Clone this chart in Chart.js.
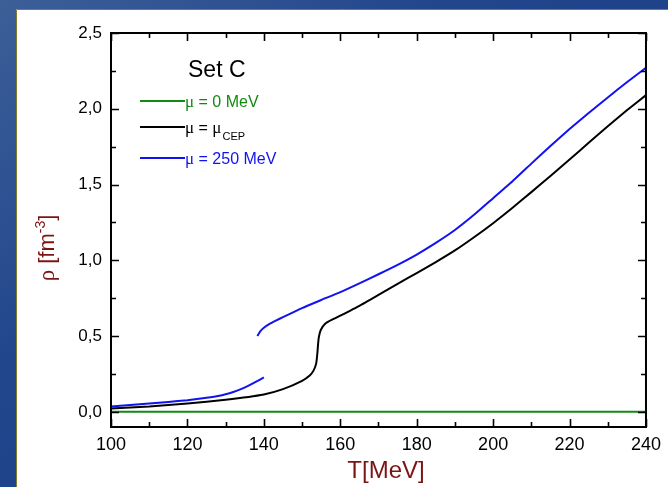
<!DOCTYPE html>
<html>
<head>
<meta charset="utf-8">
<script src="https://cdn.jsdelivr.net/npm/chart.js@4.4.1/dist/chart.umd.min.js"></script>
<style>
  html, body { margin: 0; padding: 0; overflow: hidden; background: #fff; }
  #wrap { width: 668px; height: 487px; }
</style>
</head>
<body>
<div id="wrap"><canvas id="rhoChart" width="668" height="487"></canvas></div>
<script>
// Quark number density vs temperature, model parameter set C
const setTitle = 'Set C';
const seriesLabels = ['μ = 0 MeV', 'μ = μ_CEP', 'μ = 250 MeV'];
const seriesColors = ['#128a12', '#000000', '#1212f0'];

// mu = 0
const tempMu0 = [100, 240];
const rhoMu0 = [0, 0];

// mu = mu_CEP (critical end point)
const tempCEP = [100, 110, 120, 130, 140, 145, 150, 152, 153, 153.7, 154.0, 154.2, 154.4, 154.9, 156.1, 158, 160, 165, 170, 175, 180, 185, 190, 195, 200, 205, 210, 215, 220, 225, 230, 235, 240];
const rhoCEP  = [0.022, 0.035, 0.055, 0.08, 0.115, 0.15, 0.205, 0.24, 0.272, 0.32, 0.385, 0.45, 0.495, 0.54, 0.583, 0.61, 0.635, 0.70, 0.772, 0.845, 0.915, 0.988, 1.065, 1.152, 1.245, 1.345, 1.45, 1.557, 1.665, 1.775, 1.885, 1.99, 2.09];

// mu = 250 MeV: hadronic branch and quark branch (first-order jump)
const tempLow250 = [100, 105, 110, 115, 120, 125, 128, 130, 132, 134, 136, 138, 140];
const rhoLow250  = [0.035, 0.045, 0.055, 0.065, 0.077, 0.093, 0.105, 0.116, 0.131, 0.15, 0.173, 0.199, 0.227];
const tempHigh250 = [138.3, 139, 140, 141.5, 143, 145, 150, 155, 160, 165, 170, 175, 180, 185, 190, 195, 200, 205, 210, 215, 220, 225, 230, 235, 240];
const rhoHigh250  = [0.50, 0.53, 0.555, 0.58, 0.60, 0.625, 0.685, 0.738, 0.79, 0.848, 0.908, 0.97, 1.038, 1.115, 1.20, 1.30, 1.41, 1.52, 1.638, 1.755, 1.866, 1.972, 2.075, 2.175, 2.27];

// axis ticks
const xTicks = [100, 120, 140, 160, 180, 200, 220, 240];
const xTickLabels = ['100', '120', '140', '160', '180', '200', '220', '240'];
const xMinorTicks = [110, 130, 150, 170, 190, 210, 230];
const yTicks = [0, 0.5, 1.0, 1.5, 2.0, 2.5];
const yTickLabels = ['0,0', '0,5', '1,0', '1,5', '2,0', '2,5'];
const yMinorTicks = [0.25, 0.75, 1.25, 1.75, 2.25];

const xTitle = 'T[MeV]';
const yTitle = 'ρ [fm';
const yTitleSup = '-3';
const yTitleEnd = ']';

const SANS = '"Liberation Sans", Arial, Helvetica, sans-serif';
const SERIF = '"Liberation Serif", "Times New Roman", serif';
const TITLE_RED = '#7d1414';

function pts(xs, ys) {
  return xs.map((x, i) => ({ x: x, y: ys[i] }));
}

// text with μ in a serif face and "_xxx" as a subscript
function drawRich(ctx, text, x, y, size, color) {
  ctx.fillStyle = color;
  ctx.textAlign = 'left';
  ctx.textBaseline = 'alphabetic';
  const parts = text.split(/(μ|_\w+)/).filter(s => s.length);
  for (const p of parts) {
    if (p === 'μ') {
      ctx.font = (size + 1) + 'px ' + SERIF;
      ctx.fillText(p, x, y);
      x += ctx.measureText(p).width;
    } else if (p[0] === '_') {
      const s = p.slice(1);
      ctx.font = Math.round(size * 0.68) + 'px ' + SANS;
      ctx.fillText(s, x + 1, y + 7);
      x += ctx.measureText(s).width + 1;
    } else {
      ctx.font = size + 'px ' + SANS;
      ctx.fillText(p, x, y);
      x += ctx.measureText(p).width;
    }
  }
}

const decorPlugin = {
  id: 'decor',
  beforeDraw(chart) {
    const ctx = chart.ctx;
    const W = chart.width, H = chart.height;
    ctx.save();
    const g = ctx.createLinearGradient(0, 0, W * 0.6, H);
    g.addColorStop(0, '#3c5f98');
    g.addColorStop(0.45, '#22468c');
    g.addColorStop(1, '#1a3d86');
    ctx.fillStyle = g;
    ctx.fillRect(0, 0, W, H);
    // white slide panel
    ctx.fillStyle = '#ffffff';
    ctx.fillRect(16, 9, W - 16, H - 9);
    ctx.strokeStyle = '#7f7f2c';
    ctx.lineWidth = 1;
    ctx.beginPath();
    ctx.moveTo(16.5, H);
    ctx.lineTo(16.5, 9.5);
    ctx.lineTo(W, 9.5);
    ctx.stroke();
    ctx.restore();
  },
  afterDatasetsDraw(chart) {
    const ctx = chart.ctx;
    const a = chart.chartArea;
    const xs = chart.scales.x, ys = chart.scales.y;
    ctx.save();
    // frame
    ctx.strokeStyle = '#000';
    ctx.lineWidth = 2;
    ctx.strokeRect(a.left, a.top, a.right - a.left, a.bottom - a.top);
    // inward ticks on all four sides
    const major = 8, minor = 5;
    ctx.lineWidth = 1.6;
    ctx.beginPath();
    const xt = (v, len) => {
      const px = Math.round(xs.getPixelForValue(v)) + 0.5;
      ctx.moveTo(px, a.bottom); ctx.lineTo(px, a.bottom - len);
      ctx.moveTo(px, a.top); ctx.lineTo(px, a.top + len);
    };
    const yt = (v, len) => {
      const py = Math.round(ys.getPixelForValue(v)) + 0.5;
      ctx.moveTo(a.left, py); ctx.lineTo(a.left + len, py);
      ctx.moveTo(a.right, py); ctx.lineTo(a.right - len, py);
    };
    xTicks.forEach(v => xt(v, major));
    xMinorTicks.forEach(v => xt(v, minor));
    yTicks.forEach(v => yt(v, major));
    yMinorTicks.forEach(v => yt(v, minor));
    ctx.stroke();

    // legend block
    ctx.fillStyle = '#000';
    ctx.font = '23px ' + SANS;
    ctx.textAlign = 'left';
    ctx.textBaseline = 'alphabetic';
    ctx.fillText(setTitle, 188, 77);
    let rowY = 101;
    chart.data.datasets.forEach(ds => {
      ctx.strokeStyle = ds.borderColor;
      ctx.lineWidth = 2;
      ctx.beginPath();
      ctx.moveTo(140, rowY);
      ctx.lineTo(185, rowY);
      ctx.stroke();
      drawRich(ctx, ds.label, 185, rowY + 6, 16, ds.borderColor);
      rowY += ds.label.indexOf('_') >= 0 ? 31 : 26;
    });

    // axis titles
    ctx.fillStyle = TITLE_RED;
    ctx.font = '24px ' + SANS;
    ctx.textAlign = 'center';
    ctx.fillText(xTitle, 386, 478);

    ctx.translate(54, 248);
    ctx.rotate(-Math.PI / 2);
    ctx.font = '23px ' + SERIF;
    const wRho = ctx.measureText('ρ').width;
    ctx.font = '22px ' + SANS;
    const rest = yTitle.slice(1);
    const wRest = ctx.measureText(rest).width;
    ctx.font = '14px ' + SANS;
    const wSup = ctx.measureText(yTitleSup).width;
    ctx.font = '22px ' + SANS;
    const wEnd = ctx.measureText(yTitleEnd).width;
    let x = -(wRho + wRest + wSup + wEnd) / 2;
    ctx.textAlign = 'left';
    ctx.font = '23px ' + SERIF;
    ctx.fillText('ρ', x, 0); x += wRho;
    ctx.font = '22px ' + SANS;
    ctx.fillText(rest, x, 0); x += wRest;
    ctx.font = '14px ' + SANS;
    ctx.fillText(yTitleSup, x, -9); x += wSup;
    ctx.font = '22px ' + SANS;
    ctx.fillText(yTitleEnd, x, 0);
    ctx.restore();
  }
};

const lineStyle = { showLine: true, pointRadius: 0, borderWidth: 2, fill: false, tension: 0.15, spanGaps: false };

new Chart(document.getElementById('rhoChart'), {
  type: 'scatter',
  data: {
    datasets: [
      Object.assign({ label: seriesLabels[0], data: pts(tempMu0, rhoMu0), borderColor: seriesColors[0] }, lineStyle),
      Object.assign({ label: seriesLabels[1], data: pts(tempCEP, rhoCEP), borderColor: seriesColors[1] }, lineStyle),
      Object.assign({ label: seriesLabels[2],
        data: pts(tempLow250, rhoLow250).concat([{ x: 140.2, y: null }], pts(tempHigh250, rhoHigh250)),
        borderColor: seriesColors[2] }, lineStyle)
    ]
  },
  options: {
    responsive: false,
    animation: false,
    devicePixelRatio: 1,
    layout: { padding: { top: 33, right: 19, left: 0, bottom: 0 } },
    plugins: { legend: { display: false }, tooltip: { enabled: false } },
    scales: {
      x: {
        type: 'linear', min: 100, max: 240,
        grid: { display: false, drawTicks: false },
        border: { display: false },
        afterBuildTicks(s) { s.ticks = xTicks.map(v => ({ value: v })); },
        afterFit(s) { s.height = 60; },
        ticks: {
          padding: 7, color: '#000', autoSkip: false, maxRotation: 0,
          font: { size: 18, family: SANS },
          callback: (v, i) => xTickLabels[i]
        }
      },
      y: {
        type: 'linear', min: -0.1, max: 2.5,
        grid: { display: false, drawTicks: false },
        border: { display: false },
        afterBuildTicks(s) { s.ticks = yTicks.map(v => ({ value: v })); },
        afterFit(s) { s.width = 111; },
        ticks: {
          padding: 9, color: '#000', autoSkip: false,
          font: { size: 17, family: SANS },
          callback: (v, i) => yTickLabels[i]
        }
      }
    }
  },
  plugins: [decorPlugin]
});
</script>
</body>
</html>
